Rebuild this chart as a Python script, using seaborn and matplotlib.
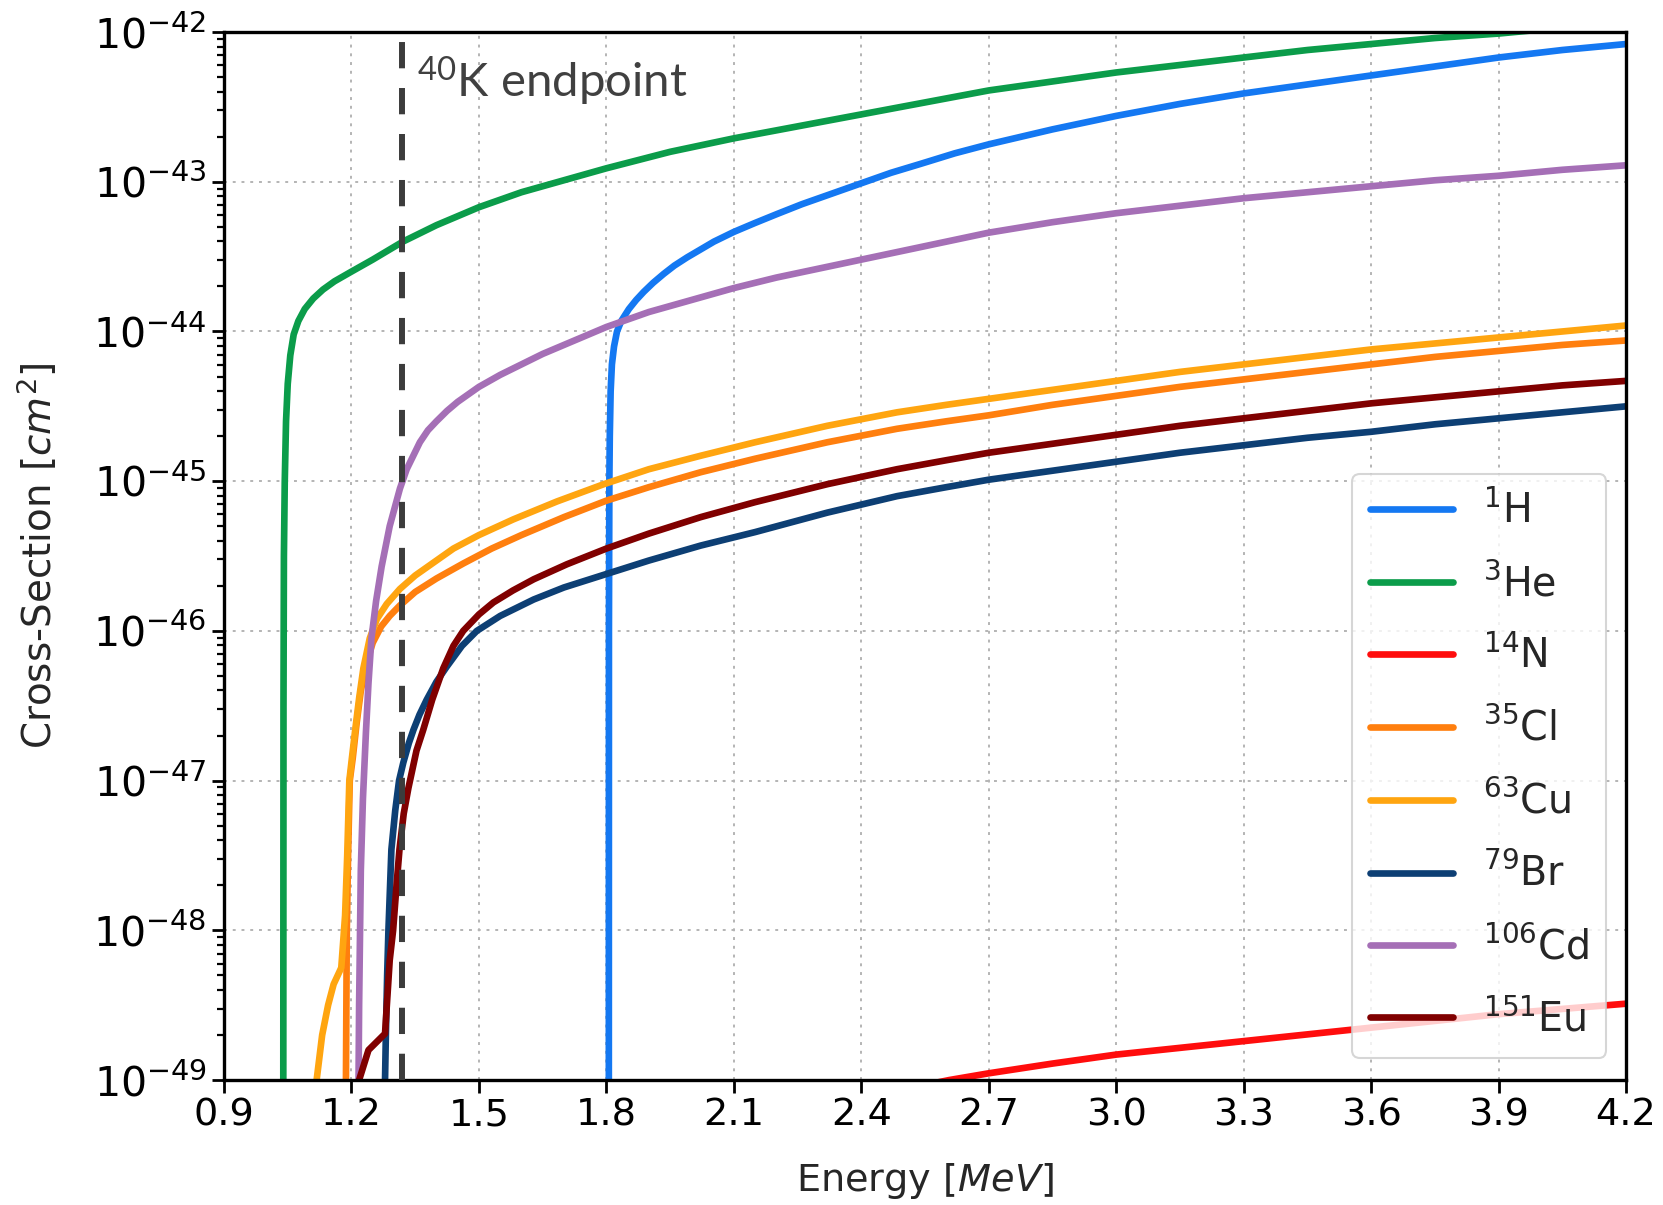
import numpy as np
import pandas as pd
import matplotlib
matplotlib.use("Agg")
import matplotlib.pyplot as plt
import matplotlib.ticker as mticker
import seaborn as sns

# ---------------- data (log10 of cross-section in cm^2 vs energy in MeV) ----------------
isotopes = ["$^{1}$H", "$^{3}$He", "$^{14}$N", "$^{35}$Cl", "$^{63}$Cu",
            "$^{79}$Br", "$^{106}$Cd", "$^{151}$Eu"]
colors = ["#1478f2", "#0b9c4a", "#ff0d0d", "#ff7f0e", "#ffa510",
          "#0d3f74", "#a56fb6", "#800000"]

energy_H = [1.8055, 1.806, 1.807, 1.808, 1.810, 1.813, 1.818, 1.825, 1.835, 1.853, 1.87,
            1.888, 1.91, 1.935, 1.96, 1.99, 2.02, 2.053, 2.1, 2.15, 2.202, 2.26, 2.32,
            2.4, 2.47, 2.54, 2.62, 2.7, 2.85, 3.0, 3.15, 3.3, 3.45, 3.6, 3.75, 3.9, 4.05, 4.2]
logxs_H = [-52.0, -46.0, -45.0, -44.7, -44.4, -44.22, -44.1, -44.0, -43.93, -43.85, -43.79,
           -43.735, -43.675, -43.615, -43.56, -43.505, -43.455, -43.4, -43.335, -43.275,
           -43.215, -43.15, -43.09, -43.01, -42.94, -42.88, -42.81, -42.75, -42.65, -42.56,
           -42.48, -42.41, -42.35, -42.29, -42.23, -42.17, -42.12, -42.08]

energy_He = [1.039, 1.040, 1.041, 1.043, 1.046, 1.050, 1.056, 1.064, 1.075, 1.09, 1.11,
             1.133, 1.16, 1.2, 1.25, 1.321, 1.4, 1.5, 1.6, 1.7, 1.8, 1.95, 2.1, 2.25, 2.4,
             2.55, 2.7, 2.85, 3.0, 3.15, 3.3, 3.45, 3.6, 3.75, 3.9, 4.05, 4.2]
logxs_He = [-52.0, -46.5, -45.5, -45.0, -44.6, -44.35, -44.16, -44.02, -43.93, -43.85,
            -43.78, -43.72, -43.665, -43.6, -43.52, -43.4, -43.29, -43.17, -43.07, -42.99,
            -42.91, -42.8, -42.71, -42.63, -42.55, -42.47, -42.39, -42.33, -42.27, -42.22,
            -42.17, -42.12, -42.08, -42.04, -42.01, -41.97, -41.94]

energy_N = [2.4, 2.607, 2.7, 2.85, 3.0, 3.15, 3.3, 3.45, 3.6, 3.75, 3.9, 4.05, 4.2]
logxs_N = [-49.12, -49.0, -48.955, -48.89, -48.83, -48.785, -48.74, -48.695, -48.65,
           -48.605, -48.56, -48.525, -48.49]

energy_Cl = [1.186, 1.189, 1.192, 1.196, 1.203, 1.212, 1.222, 1.235, 1.25, 1.27, 1.29,
             1.314, 1.35, 1.4, 1.463, 1.53, 1.6, 1.7, 1.8, 1.9, 2.022, 2.15, 2.32, 2.484,
             2.6, 2.7, 2.85, 3.0, 3.15, 3.3, 3.45, 3.6, 3.75, 3.9, 4.05, 4.2]
logxs_Cl = [-49.5, -48.0, -47.5, -47.0, -46.85, -46.62, -46.4, -46.22, -46.08, -45.97,
            -45.9, -45.83, -45.74, -45.65, -45.55, -45.45, -45.36, -45.24, -45.13, -45.04,
            -44.94, -44.85, -44.74, -44.65, -44.6, -44.56, -44.49, -44.43, -44.37, -44.32,
            -44.27, -44.22, -44.17, -44.13, -44.09, -44.06]

energy_Cu = [1.110, 1.118, 1.131, 1.145, 1.158, 1.176, 1.185, 1.19, 1.195, 1.201, 1.208,
             1.218, 1.228, 1.243, 1.26, 1.283, 1.314, 1.35, 1.4, 1.44, 1.5, 1.581, 1.684,
             1.794, 1.9, 2.022, 2.15, 2.32, 2.484, 2.6, 2.7, 2.85, 3.0, 3.15, 3.3, 3.45,
             3.6, 3.75, 3.9, 4.05, 4.2]
logxs_Cu = [-49.3, -49.0, -48.7, -48.5, -48.36, -48.25, -47.9, -47.5, -47.0, -46.85, -46.68,
            -46.45, -46.25, -46.05, -45.92, -45.82, -45.72, -45.63, -45.53, -45.45, -45.36,
            -45.255, -45.135, -45.02, -44.92, -44.83, -44.74, -44.63, -44.54, -44.49, -44.45,
            -44.39, -44.33, -44.27, -44.22, -44.17, -44.12, -44.08, -44.04, -44.0, -43.96]

energy_Br = [1.278, 1.279, 1.281, 1.284, 1.287, 1.294, 1.303, 1.312, 1.322, 1.335, 1.346,
             1.36, 1.377, 1.4, 1.424, 1.46, 1.495, 1.55, 1.629, 1.7, 1.8, 1.9, 2.022, 2.15,
             2.32, 2.484, 2.6, 2.7, 2.85, 3.0, 3.15, 3.3, 3.45, 3.6, 3.75, 3.9, 4.05, 4.2]
logxs_Br = [-50.0, -49.0, -48.69, -48.3, -48.0, -47.46, -47.2, -47.0, -46.88, -46.75, -46.66,
            -46.56, -46.46, -46.34, -46.24, -46.1, -46.0, -45.9, -45.79, -45.71, -45.62,
            -45.53, -45.43, -45.34, -45.21, -45.1, -45.04, -44.99, -44.93, -44.87, -44.81,
            -44.76, -44.71, -44.67, -44.62, -44.58, -44.54, -44.5]

energy_Cd = [1.214, 1.218, 1.222, 1.227, 1.234, 1.24, 1.247, 1.258, 1.271, 1.29, 1.314,
             1.33, 1.361, 1.38, 1.4, 1.425, 1.45, 1.5, 1.55, 1.6, 1.65, 1.7, 1.75, 1.8,
             1.9, 2.0, 2.1, 2.2, 2.3, 2.4, 2.5, 2.6, 2.7, 2.85, 3.0, 3.15, 3.3, 3.45, 3.6,
             3.75, 3.9, 4.05, 4.2]
logxs_Cd = [-50.0, -48.5, -47.6, -47.12, -46.68, -46.35, -46.05, -45.8, -45.57, -45.3, -45.05,
            -44.92, -44.74, -44.66, -44.6, -44.53, -44.47, -44.37, -44.29, -44.22, -44.15,
            -44.09, -44.03, -43.97, -43.87, -43.79, -43.71, -43.64, -43.58, -43.52, -43.46,
            -43.4, -43.34, -43.27, -43.21, -43.16, -43.11, -43.07, -43.03, -42.99, -42.96,
            -42.92, -42.89]

energy_Eu = [1.19, 1.218, 1.24, 1.279, 1.29, 1.298, 1.306, 1.313, 1.323, 1.334, 1.353,
             1.369, 1.39, 1.416, 1.44, 1.463, 1.5, 1.534, 1.58, 1.629, 1.707, 1.8, 1.9,
             2.022, 2.15, 2.32, 2.484, 2.6, 2.7, 2.85, 3.0, 3.15, 3.3, 3.45, 3.6, 3.75,
             3.9, 4.05, 4.2]
logxs_Eu = [-49.6, -49.0, -48.8, -48.69, -48.2, -48.0, -47.7, -47.46, -47.22, -47.05, -46.8,
            -46.66, -46.46, -46.25, -46.1, -46.0, -45.89, -45.81, -45.73, -45.655, -45.555,
            -45.45, -45.35, -45.24, -45.14, -45.02, -44.92, -44.86, -44.81, -44.75, -44.69,
            -44.63, -44.58, -44.53, -44.48, -44.44, -44.4, -44.36, -44.33]

energies = [energy_H, energy_He, energy_N, energy_Cl, energy_Cu, energy_Br, energy_Cd, energy_Eu]
logxs = [logxs_H, logxs_He, logxs_N, logxs_Cl, logxs_Cu, logxs_Br, logxs_Cd, logxs_Eu]

k40_endpoint = 1.32
xticks = [0.9, 1.2, 1.5, 1.8, 2.1, 2.4, 2.7, 3.0, 3.3, 3.6, 3.9, 4.2]
ytick_exponents = [-49, -48, -47, -46, -45, -44, -43, -42]

frames = []
for name, e, l in zip(isotopes, energies, logxs):
    frames.append(pd.DataFrame({"Energy": e, "xs": np.power(10.0, np.array(l)), "isotope": name}))
df = pd.concat(frames, ignore_index=True)

# ---------------- style ----------------
sns.set_style("ticks")
plt.rcParams["font.family"] = ["DejaVu Sans"]
plt.rcParams["mathtext.fontset"] = "dejavusans"
plt.rcParams["axes.edgecolor"] = "black"
plt.rcParams["xtick.color"] = "black"
plt.rcParams["ytick.color"] = "black"

fig = plt.figure(figsize=(16.63, 12.05), dpi=100)
ax = fig.add_axes([0.1347, 0.1037, 0.8431, 0.8697])

LW = 4.8
palette = dict(zip(isotopes, colors))
sns.lineplot(data=df, x="Energy", y="xs", hue="isotope", hue_order=isotopes,
             palette=palette, estimator=None, sort=False, linewidth=LW, ax=ax,
             legend=False)

ax.set_yscale("log")
ax.set_xlim(0.9, 4.2)
ax.set_ylim(1e-49, 1e-42)
ax.set_xticks(xticks)
ax.set_xticklabels([f"{v:.1f}" for v in xticks])
ax.yaxis.set_major_locator(mticker.FixedLocator([10.0 ** p for p in ytick_exponents]))
ax.set_yticklabels([f"$10^{{{p}}}$".replace("-", "\u2212") for p in ytick_exponents])
ax.yaxis.set_minor_locator(mticker.LogLocator(base=10, subs=np.arange(2, 10), numticks=20))
ax.yaxis.set_minor_formatter(mticker.NullFormatter())

ax.axvline(k40_endpoint, color="#3c3c3c", lw=4.3, dashes=(4.4, 3.3), zorder=5)

ax.grid(True, which="major", color="#b4b4b4", linestyle=(0, (1.5, 3)), lw=1.4)
for s in ax.spines.values():
    s.set_linewidth(2.4)
    s.set_color("black")
ax.tick_params(axis="x", which="major", labelsize=27.5, length=9, width=2.0, direction="out")
ax.tick_params(axis="y", which="major", labelsize=29.5, length=9, width=2.0, direction="out")
ax.tick_params(axis="y", which="minor", length=5, width=1.6, direction="out")

ax.set_xlabel("Energy [$MeV$]", fontsize=27.5, color="#262626", labelpad=20)
ax.set_ylabel("Cross-Section [$cm^2$]", fontsize=28, color="#262626", labelpad=24)

# annotation text (Calibri-like font)
plt.rcParams["mathtext.rm"] = "Lato"
plt.rcParams["mathtext.it"] = "Lato:italic"
ax.text(0.1375, 0.938, "$\\mathrm{^{40}}$K endpoint", transform=ax.transAxes,
        fontsize=34, family="Lato", color="#404040", ha="left", va="baseline",
        math_fontfamily="custom", zorder=6)

handles = [plt.Line2D([0], [0], color=c, lw=LW) for c in colors]
leg = ax.legend(handles, isotopes, loc="lower right", bbox_to_anchor=(0.986, 0.021),
                borderaxespad=0.0, fontsize=28.5, frameon=True, framealpha=0.8,
                edgecolor="#cccccc", fancybox=True, handlelength=2.1,
                handletextpad=0.75, labelspacing=0.8, borderpad=0.45)
leg.get_frame().set_linewidth(1.5)
leg.set_zorder(10)

fig.savefig("out.png", dpi=100)
